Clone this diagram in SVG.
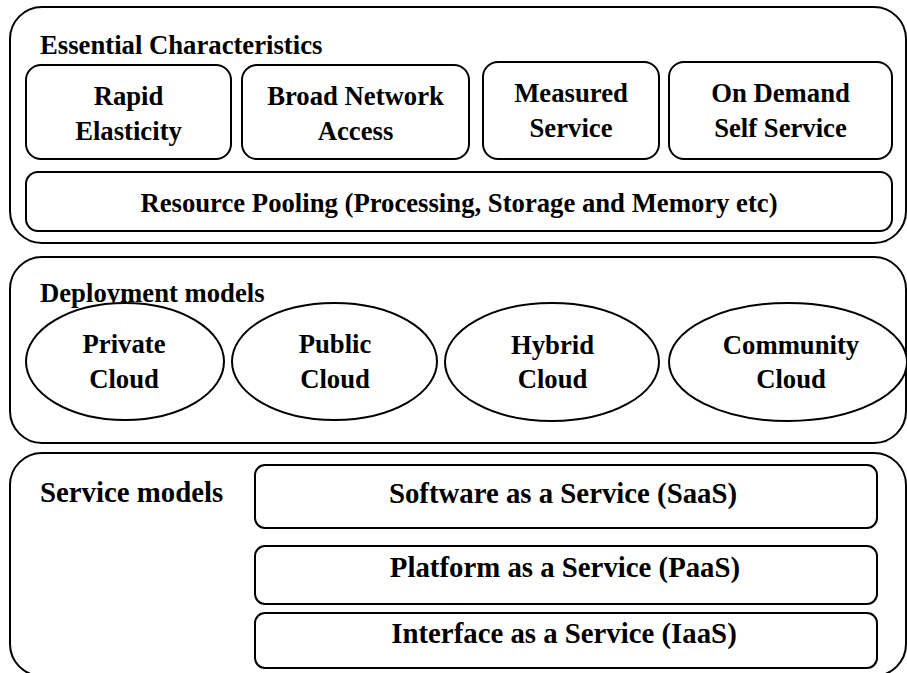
<svg xmlns="http://www.w3.org/2000/svg" width="907" height="673" viewBox="0 0 907 673">
<style>
.c{fill:#fff;stroke:#000;stroke-width:2}
.b{fill:#fff;stroke:#000;stroke-width:2}
text{font-family:"Liberation Serif","Times New Roman",serif;font-weight:bold;fill:#000}
.t{font-size:26.7px;text-anchor:middle}
.l{font-size:26.7px}
.s{font-size:28.8px;text-anchor:middle}
</style>
<rect width="907" height="673" fill="#fff"/>
<g id="essential">
<rect class="c" x="10" y="7" width="896" height="236" rx="32"/>
<text class="l" x="40" y="54">Essential Characteristics</text>
</g>
<g id="rapid">
<rect class="b" x="26" y="65" width="205" height="94" rx="15"/>
<text class="t" x="128.5" y="105">Rapid</text>
<text class="t" x="128.5" y="140">Elasticity</text>
</g>
<g id="broad">
<rect class="b" x="242" y="65" width="227" height="94" rx="15"/>
<text class="t" x="355.5" y="105">Broad Network</text>
<text class="t" x="355.5" y="140">Access</text>
</g>
<g id="measured">
<rect class="b" x="483" y="62" width="176" height="97" rx="15"/>
<text class="t" x="571" y="102">Measured</text>
<text class="t" x="571" y="137">Service</text>
</g>
<g id="ondemand">
<rect class="b" x="669" y="62" width="223" height="97" rx="15"/>
<text class="t" x="780.5" y="102">On Demand</text>
<text class="t" x="780.5" y="137">Self Service</text>
</g>
<g id="pooling">
<rect class="b" x="26" y="172" width="866" height="59" rx="12"/>
<text class="t" x="459" y="212">Resource Pooling (Processing, Storage and Memory etc)</text>
</g>
<g id="deployment">
<rect class="c" x="10" y="257" width="896" height="186" rx="32"/>
<text class="l" x="40" y="302">Deployment models</text>
</g>
<g id="private">
<ellipse class="b" cx="125" cy="361.5" rx="99" ry="58.5"/>
<text class="t" x="124" y="353">Private</text>
<text class="t" x="124" y="388">Cloud</text>
</g>
<g id="public">
<ellipse class="b" cx="334.5" cy="361.5" rx="102.5" ry="58.5"/>
<text class="t" x="335" y="353">Public</text>
<text class="t" x="335" y="388">Cloud</text>
</g>
<g id="hybrid">
<ellipse class="b" cx="552" cy="362" rx="107" ry="59"/>
<text class="t" x="552.5" y="354">Hybrid</text>
<text class="t" x="552.5" y="388">Cloud</text>
</g>
<g id="community">
<ellipse class="b" cx="788" cy="362" rx="119" ry="59"/>
<text class="t" x="791" y="354">Community</text>
<text class="t" x="791" y="388">Cloud</text>
</g>
<g id="service">
<rect class="c" x="10" y="453" width="896" height="223" rx="32"/>
<text class="l" x="40" y="502" style="font-size:28.8px">Service models</text>
</g>
<g id="saas">
<rect class="b" x="255" y="465" width="622" height="63" rx="10"/>
<text class="s" x="563" y="503">Software as a Service (SaaS)</text>
</g>
<g id="paas">
<rect class="b" x="255" y="546" width="622" height="58" rx="10"/>
<text class="s" x="565" y="577">Platform as a Service (PaaS)</text>
</g>
<g id="iaas">
<rect class="b" x="255" y="613" width="622" height="55" rx="10"/>
<text class="s" x="564" y="643">Interface as a Service (IaaS)</text>
</g>
<g id="connectors"></g>
</svg>
